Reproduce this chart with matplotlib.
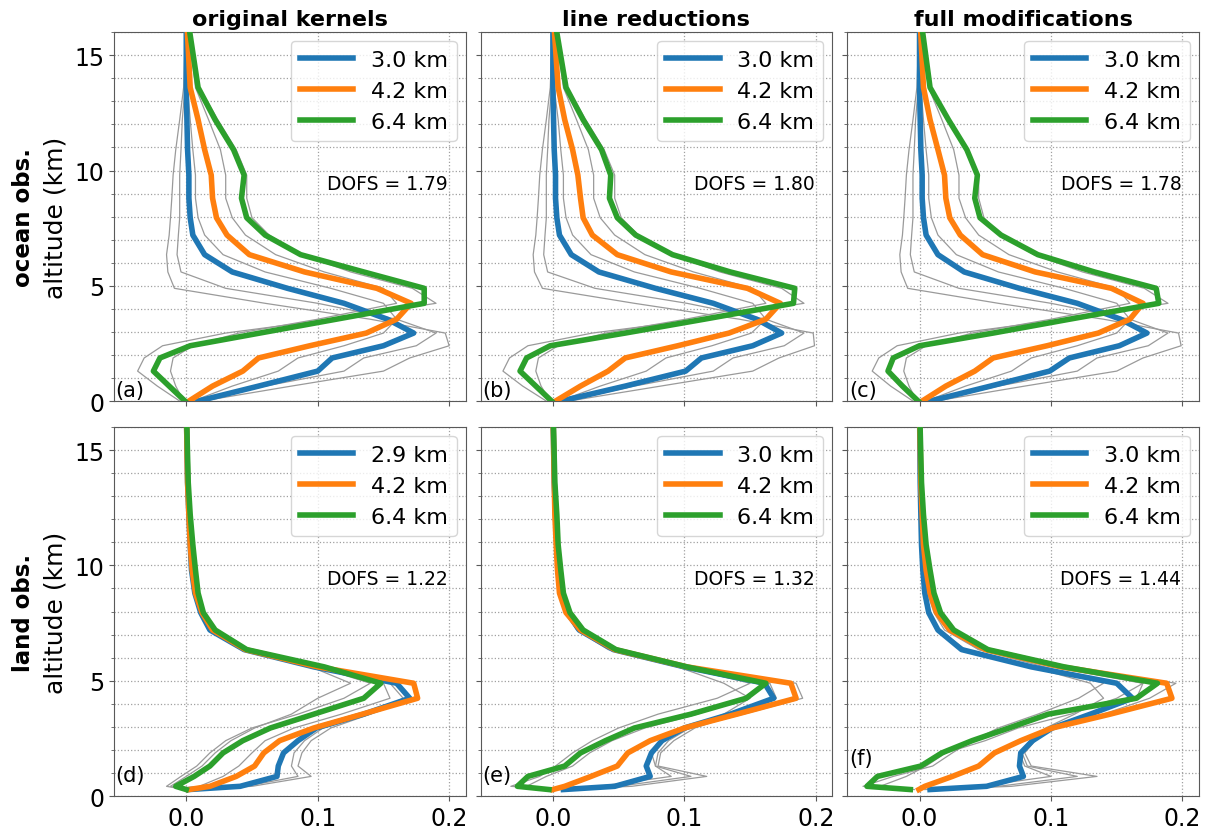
import numpy as np
import matplotlib
matplotlib.use("Agg")
import matplotlib.pyplot as plt
from matplotlib.ticker import MultipleLocator

# ---------------- data ----------------
col_titles = ["original kernels", "line reductions", "full modifications"]
row_titles = ["ocean obs.", "land obs."]
panel_labels = ["(a)", "(b)", "(c)", "(d)", "(e)", "(f)"]
dofs = ["1.79", "1.80", "1.78", "1.22", "1.32", "1.44"]
legend_labels = [
    ["3.0 km", "4.2 km", "6.4 km"],
    ["3.0 km", "4.2 km", "6.4 km"],
    ["3.0 km", "4.2 km", "6.4 km"],
    ["2.9 km", "4.2 km", "6.4 km"],
    ["3.0 km", "4.2 km", "6.4 km"],
    ["3.0 km", "4.2 km", "6.4 km"],
]

# altitude grids (km)
z_ocean = [0.0, 0.65, 1.3, 1.87, 2.4, 2.95, 3.55, 4.24, 4.89, 5.6, 6.35, 7.2, 7.95, 8.8, 9.8, 10.9, 12.2, 13.6, 17.0]
z_land = [0.28, 0.42, 0.85, 1.3, 1.87, 2.4, 2.95, 3.55, 4.24, 4.89, 5.6, 6.35, 7.2, 7.95, 8.8, 9.8, 10.9, 12.2, 13.6, 17.0]

# ---- panel (a) ----
a_blue = [0.009, 0.055, 0.100, 0.111, 0.150, 0.173, 0.153, 0.120, 0.077, 0.035, 0.014, 0.005, 0.003, 0.002, 0.002, 0.001, 0.0005, 0.0, 0.0]
a_orange = [0.002, 0.020, 0.043, 0.055, 0.094, 0.137, 0.160, 0.171, 0.145, 0.090, 0.048, 0.031, 0.023, 0.020, 0.019, 0.014, 0.009, 0.003, 0.0]
a_green = [-0.001, -0.013, -0.025, -0.020, 0.003, 0.056, 0.114, 0.181, 0.181, 0.135, 0.087, 0.060, 0.046, 0.042, 0.044, 0.036, 0.022, 0.009, 0.0]
a_gray = [
    [0.012, 0.080, 0.150, 0.170, 0.200, 0.197, 0.140, 0.060, -0.009, -0.014, -0.015, -0.013, -0.012, -0.011, -0.010, -0.008, -0.005, -0.002, 0.0],
    [0.010, 0.060, 0.120, 0.135, 0.175, 0.190, 0.160, 0.100, 0.030, -0.004, -0.007, -0.006, -0.005, -0.005, -0.005, -0.004, -0.003, -0.001, 0.0],
    [0.005, 0.035, 0.070, 0.085, 0.120, 0.150, 0.160, 0.150, 0.110, 0.060, 0.028, 0.014, 0.009, 0.007, 0.007, 0.005, 0.003, 0.001, 0.0],
    [-0.005, -0.022, -0.037, -0.032, -0.018, 0.030, 0.110, 0.190, 0.172, 0.125, 0.088, 0.063, 0.050, 0.046, 0.046, 0.038, 0.024, 0.010, 0.0],
    [-0.002, -0.008, -0.012, -0.010, 0.005, 0.040, 0.100, 0.160, 0.150, 0.105, 0.068, 0.045, 0.035, 0.030, 0.030, 0.026, 0.017, 0.007, 0.0],
]

# ---- panel (b) ----
b_blue = [0.006, 0.055, 0.101, 0.113, 0.152, 0.174, 0.155, 0.122, 0.078, 0.035, 0.014, 0.005, 0.003, 0.002, 0.002, 0.001, 0.0005, 0.0, 0.0]
b_orange = [0.002, 0.021, 0.042, 0.055, 0.095, 0.134, 0.162, 0.173, 0.148, 0.090, 0.049, 0.030, 0.023, 0.021, 0.019, 0.015, 0.009, 0.004, 0.0]
b_green = [-0.001, -0.013, -0.025, -0.020, -0.002, 0.055, 0.115, 0.183, 0.184, 0.135, 0.091, 0.063, 0.049, 0.043, 0.044, 0.037, 0.023, 0.010, 0.0]
b_gray = [
    [0.012, 0.082, 0.152, 0.172, 0.199, 0.198, 0.142, 0.062, -0.008, -0.014, -0.015, -0.013, -0.012, -0.011, -0.010, -0.008, -0.005, -0.002, 0.0],
    [0.010, 0.062, 0.122, 0.137, 0.176, 0.191, 0.162, 0.102, 0.032, -0.004, -0.007, -0.006, -0.005, -0.005, -0.005, -0.004, -0.003, -0.001, 0.0],
    [0.005, 0.036, 0.071, 0.086, 0.121, 0.151, 0.162, 0.152, 0.112, 0.062, 0.029, 0.015, 0.010, 0.008, 0.008, 0.006, 0.004, 0.001, 0.0],
    [-0.005, -0.023, -0.038, -0.033, -0.019, 0.030, 0.112, 0.191, 0.174, 0.127, 0.090, 0.065, 0.052, 0.047, 0.047, 0.039, 0.025, 0.011, 0.0],
    [-0.002, -0.009, -0.013, -0.011, 0.004, 0.040, 0.101, 0.162, 0.152, 0.107, 0.070, 0.047, 0.036, 0.031, 0.031, 0.027, 0.018, 0.008, 0.0],
]

# ---- panel (c) ----
c_blue = [0.008, 0.054, 0.099, 0.114, 0.152, 0.173, 0.153, 0.120, 0.076, 0.034, 0.014, 0.005, 0.003, 0.002, 0.002, 0.001, 0.0005, 0.0, 0.0]
c_orange = [0.002, 0.020, 0.042, 0.056, 0.097, 0.136, 0.160, 0.170, 0.146, 0.088, 0.048, 0.031, 0.023, 0.020, 0.019, 0.014, 0.008, 0.003, 0.0]
c_green = [-0.001, -0.013, -0.024, -0.020, 0.000, 0.056, 0.114, 0.182, 0.180, 0.133, 0.090, 0.062, 0.046, 0.042, 0.044, 0.036, 0.022, 0.008, 0.0]
c_gray = [
    [0.012, 0.080, 0.150, 0.170, 0.199, 0.197, 0.140, 0.060, -0.009, -0.014, -0.015, -0.013, -0.012, -0.011, -0.010, -0.008, -0.005, -0.002, 0.0],
    [0.010, 0.060, 0.120, 0.135, 0.174, 0.189, 0.160, 0.100, 0.030, -0.004, -0.007, -0.006, -0.005, -0.005, -0.005, -0.004, -0.003, -0.001, 0.0],
    [0.005, 0.035, 0.070, 0.085, 0.120, 0.150, 0.160, 0.150, 0.110, 0.060, 0.028, 0.014, 0.009, 0.007, 0.007, 0.005, 0.003, 0.001, 0.0],
    [-0.005, -0.022, -0.036, -0.031, -0.017, 0.030, 0.110, 0.189, 0.171, 0.124, 0.087, 0.062, 0.049, 0.045, 0.045, 0.037, 0.023, 0.009, 0.0],
    [-0.002, -0.008, -0.012, -0.010, 0.005, 0.040, 0.100, 0.160, 0.150, 0.105, 0.068, 0.045, 0.035, 0.030, 0.030, 0.026, 0.017, 0.007, 0.0],
]

# ---- panel (d) ----
d_blue = [0.002, 0.041, 0.069, 0.070, 0.074, 0.085, 0.099, 0.135, 0.170, 0.160, 0.097, 0.044, 0.018, 0.011, 0.0065, 0.004, 0.003, 0.002, 0.001, 0.0]
d_orange = [0.002, 0.018, 0.038, 0.052, 0.059, 0.071, 0.097, 0.134, 0.176, 0.173, 0.100, 0.045, 0.020, 0.012, 0.007, 0.0045, 0.003, 0.002, 0.001, 0.0]
d_green = [0.000, -0.008, 0.006, 0.018, 0.028, 0.043, 0.064, 0.097, 0.135, 0.148, 0.105, 0.046, 0.022, 0.013, 0.009, 0.007, 0.005, 0.003, 0.0015, 0.0]
d_gray = [
    [0.003, 0.050, 0.095, 0.085, 0.088, 0.095, 0.110, 0.140, 0.165, 0.155, 0.098, 0.043, 0.017, 0.010, 0.006, 0.004, 0.003, 0.002, 0.001, 0.0],
    [0.002, 0.045, 0.085, 0.080, 0.082, 0.090, 0.104, 0.138, 0.168, 0.162, 0.098, 0.043, 0.017, 0.010, 0.006, 0.004, 0.003, 0.002, 0.001, 0.0],
    [0.000, -0.012, 0.000, 0.012, 0.022, 0.034, 0.052, 0.080, 0.100, 0.125, 0.095, 0.043, 0.020, 0.012, 0.008, 0.006, 0.004, 0.003, 0.0015, 0.0],
    [0.001, 0.010, 0.028, 0.040, 0.050, 0.060, 0.082, 0.118, 0.155, 0.150, 0.100, 0.044, 0.019, 0.011, 0.007, 0.005, 0.003, 0.002, 0.001, 0.0],
    [-0.001, -0.015, -0.004, 0.008, 0.018, 0.030, 0.050, 0.085, 0.120, 0.140, 0.100, 0.046, 0.022, 0.013, 0.009, 0.007, 0.005, 0.003, 0.0015, 0.0],
]

# ---- panel (e) ----
e_blue = [0.008, 0.047, 0.074, 0.071, 0.075, 0.083, 0.100, 0.135, 0.168, 0.161, 0.100, 0.046, 0.020, 0.011, 0.006, 0.004, 0.003, 0.002, 0.001, 0.0]
e_orange = [0.000, 0.009, 0.029, 0.049, 0.057, 0.074, 0.100, 0.140, 0.185, 0.181, 0.102, 0.047, 0.021, 0.010, 0.005, 0.0035, 0.0025, 0.0015, 0.001, 0.0]
e_green = [-0.003, -0.027, -0.019, 0.009, 0.021, 0.040, 0.062, 0.105, 0.147, 0.162, 0.102, 0.048, 0.023, 0.013, 0.008, 0.006, 0.004, 0.003, 0.0015, 0.0]
e_gray = [
    [0.005, 0.060, 0.117, 0.080, 0.082, 0.092, 0.108, 0.140, 0.170, 0.165, 0.100, 0.045, 0.019, 0.011, 0.006, 0.004, 0.003, 0.002, 0.001, 0.0],
    [0.004, 0.050, 0.105, 0.078, 0.080, 0.088, 0.104, 0.145, 0.190, 0.185, 0.100, 0.046, 0.020, 0.011, 0.006, 0.004, 0.003, 0.002, 0.001, 0.0],
    [-0.001, -0.032, -0.010, 0.002, 0.015, 0.030, 0.050, 0.080, 0.125, 0.150, 0.098, 0.044, 0.021, 0.012, 0.008, 0.006, 0.004, 0.003, 0.0015, 0.0],
    [0.000, -0.020, -0.005, 0.015, 0.028, 0.045, 0.070, 0.110, 0.145, 0.165, 0.102, 0.047, 0.022, 0.013, 0.008, 0.006, 0.004, 0.003, 0.0015, 0.0],
    [0.003, 0.035, 0.090, 0.078, 0.075, 0.085, 0.100, 0.130, 0.150, 0.130, 0.095, 0.042, 0.018, 0.010, 0.006, 0.004, 0.003, 0.002, 0.001, 0.0],
]

# ---- panel (f) ----
f_blue = [0.008, 0.051, 0.079, 0.076, 0.077, 0.086, 0.101, 0.130, 0.162, 0.150, 0.085, 0.032, 0.014, 0.007, 0.004, 0.0025, 0.0015, 0.001, 0.0005, 0.0]
f_orange = [-0.0005, 0.004, 0.025, 0.045, 0.057, 0.077, 0.101, 0.145, 0.192, 0.188, 0.108, 0.050, 0.023, 0.013, 0.008, 0.005, 0.003, 0.002, 0.001, 0.0]
f_green = [-0.007, -0.040, -0.032, 0.001, 0.017, 0.040, 0.068, 0.098, 0.165, 0.181, 0.110, 0.052, 0.026, 0.016, 0.011, 0.008, 0.005, 0.003, 0.0015, 0.0]
f_gray = [
    [0.008, 0.070, 0.135, 0.085, 0.080, 0.088, 0.100, 0.140, 0.175, 0.195, 0.110, 0.048, 0.021, 0.012, 0.007, 0.005, 0.003, 0.002, 0.001, 0.0],
    [0.006, 0.060, 0.120, 0.082, 0.078, 0.086, 0.098, 0.132, 0.165, 0.170, 0.100, 0.045, 0.019, 0.011, 0.006, 0.004, 0.003, 0.002, 0.001, 0.0],
    [0.004, 0.045, 0.100, 0.080, 0.076, 0.084, 0.096, 0.118, 0.140, 0.130, 0.085, 0.035, 0.015, 0.008, 0.004, 0.003, 0.002, 0.0015, 0.0007, 0.0],
    [-0.006, -0.043, -0.020, 0.010, 0.025, 0.040, 0.060, 0.090, 0.121, 0.140, 0.095, 0.045, 0.022, 0.013, 0.009, 0.006, 0.004, 0.003, 0.0015, 0.0],
    [-0.004, -0.030, -0.010, 0.005, 0.020, 0.050, 0.075, 0.115, 0.150, 0.170, 0.108, 0.050, 0.024, 0.014, 0.010, 0.007, 0.005, 0.003, 0.0015, 0.0],
]

panels = [
    (z_ocean, a_blue, a_orange, a_green, a_gray),
    (z_ocean, b_blue, b_orange, b_green, b_gray),
    (z_ocean, c_blue, c_orange, c_green, c_gray),
    (z_land, d_blue, d_orange, d_green, d_gray),
    (z_land, e_blue, e_orange, e_green, e_gray),
    (z_land, f_blue, f_orange, f_green, f_gray),
]
# panel label heights (axes fraction)
label_y = [0.003, 0.003, 0.003, 0.03, 0.03, 0.075]

colors = ["#1f77b4", "#ff7f0e", "#2ca02c"]

# ---------------- figure ----------------
fig, axes = plt.subplots(2, 3, figsize=(12.11, 8.29), dpi=100, sharex=True, sharey=True)
fig.subplots_adjust(left=0.0941, right=0.990, top=0.960, bottom=0.0386,
                    wspace=0.0426, hspace=0.0705)

for i, ax in enumerate(axes.flat):
    z, lb, lo, lg, grays = panels[i]
    for g in grays:
        ax.plot(g, z, color="#9a9a9a", lw=0.9, zorder=2)
    for vals, c, lab in zip([lb, lo, lg], colors, legend_labels[i]):
        ax.plot(vals, z, color=c, lw=4, label=lab, zorder=3)
    ax.set_xlim(-0.055, 0.2125)
    ax.set_ylim(0, 16)
    ax.xaxis.set_major_locator(MultipleLocator(0.1))
    ax.yaxis.set_major_locator(MultipleLocator(5))
    ax.yaxis.set_minor_locator(MultipleLocator(1))
    ax.grid(True, which="both", axis="y", linestyle=":", color="#a0a0a0", lw=0.9)
    ax.grid(True, which="major", axis="x", linestyle=":", color="#a0a0a0", lw=0.9)
    ax.tick_params(axis="both", which="major", labelsize=17, color="0.35")
    ax.tick_params(axis="y", which="minor", color="0.35")
    for s in ax.spines.values():
        s.set_color("0.35")
    ax.legend(loc="upper right", fontsize=16, handlelength=2.4,
              borderaxespad=0.4)
    ax.text(0.95, 0.59, "DOFS = " + dofs[i], transform=ax.transAxes,
            ha="right", va="center", fontsize=13.5)
    ax.text(0.005, label_y[i], panel_labels[i], transform=ax.transAxes,
            ha="left", va="bottom", fontsize=15)
    ax.xaxis.set_major_formatter(matplotlib.ticker.FormatStrFormatter("%.1f"))

for j, t in enumerate(col_titles):
    axes[0, j].set_title(t, fontsize=16, fontweight="bold", pad=5)

for r, t in enumerate(row_titles):
    ax = axes[r, 0]
    ax.set_ylabel("altitude (km)", fontsize=18, labelpad=5)
    ax.text(-0.258, 0.5, t, transform=ax.transAxes, rotation=90,
            ha="center", va="center", fontsize=16.5, fontweight="bold")

fig.savefig("out.png", dpi=100)
